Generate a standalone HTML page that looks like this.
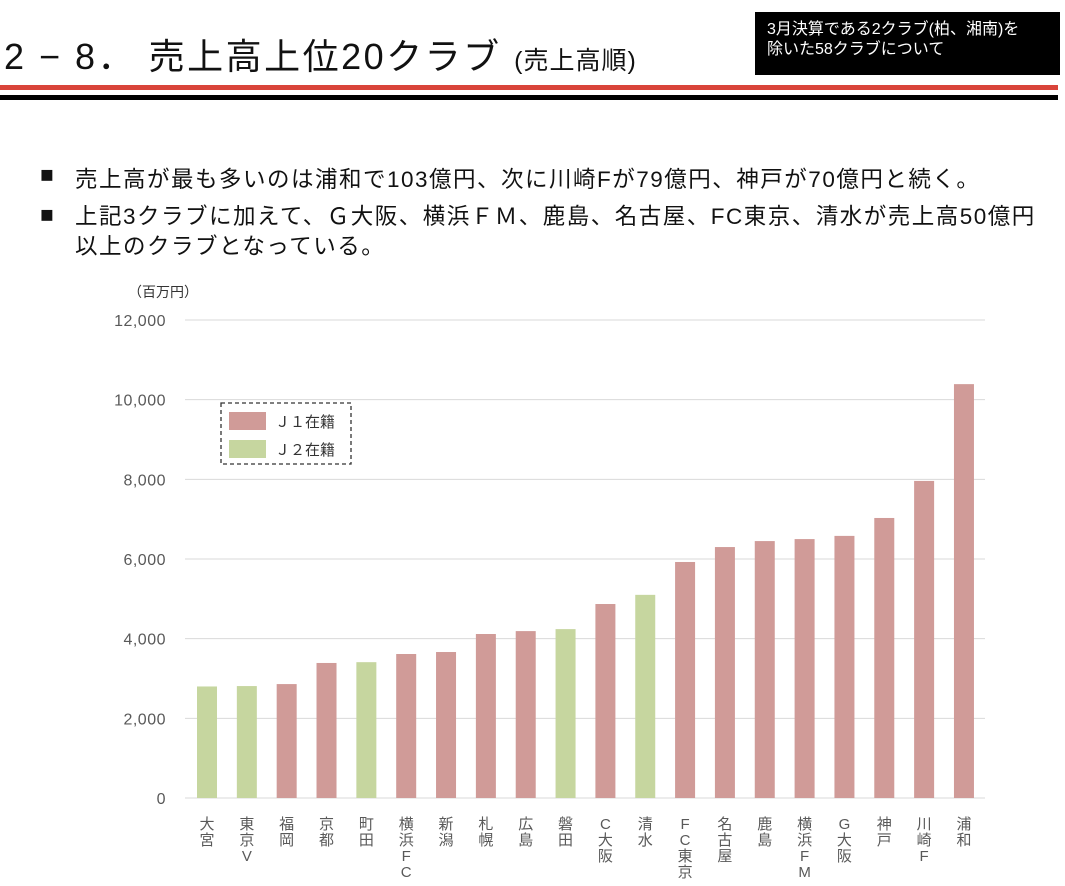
<!DOCTYPE html>
<html><head><meta charset="utf-8">
<style>
body{margin:0;width:1065px;height:886px;background:#fff;overflow:hidden;font-family:"Liberation Sans","Noto Sans CJK JP",sans-serif;position:relative}
.abs{position:absolute}
.b{font-size:22.5px;color:#111;white-space:nowrap;letter-spacing:1.5px}
</style></head><body>
<div class="abs" style="left:4px;top:28px;font-size:36px;color:#111;white-space:nowrap;letter-spacing:2.5px">2 − 8． 売上高上位20クラブ <span style="font-size:25px;letter-spacing:1px">(売上高順)</span></div>
<div class="abs" style="left:755px;top:12px;width:305px;height:63px;background:#000;color:#fff;font-size:16px;line-height:20px;padding:8px 0 0 12px;box-sizing:border-box">3月決算である2クラブ(柏、湘南)を<br>除いた58クラブについて</div>
<div class="abs" style="left:0;top:85px;width:1058px;height:5px;background:#d9443a"></div>
<div class="abs" style="left:0;top:95px;width:1058px;height:5px;background:#000"></div>
<div class="abs b" style="left:40px;top:162px">■</div>
<div class="abs b" style="left:75px;top:162px">売上高が最も多いのは浦和で103億円、次に川崎Fが79億円、神戸が70億円と続く。</div>
<div class="abs b" style="left:40px;top:202px">■</div>
<div class="abs b" style="left:75px;top:202px;line-height:30px">上記3クラブに加えて、Ｇ大阪、横浜ＦＭ、鹿島、名古屋、FC東京、清水が売上高50億円<br>以上のクラブとなっている。</div>
<svg class="abs" style="left:0;top:0" width="1065" height="886" id="chart"></svg>
<script>
const categories=["大宮","東京V","福岡","京都","町田","横浜FC","新潟","札幌","広島","磐田","C大阪","清水","FC東京","名古屋","鹿島","横浜FM","G大阪","神戸","川崎F","浦和"];
const values=[2800,2810,2860,3390,3410,3615,3665,4117,4190,4240,4870,5100,5925,6300,6450,6500,6580,7030,7960,10390];
const division=[2,2,1,1,2,1,1,1,1,2,1,2,1,1,1,1,1,1,1,1];
const yTicks=[0,2000,4000,6000,8000,10000,12000];
const NS="http://www.w3.org/2000/svg";
const svg=document.getElementById('chart');
const y=v=>798-v*(478/12000);
const x=i=>207+i*39.84;
function mk(t,a){const e=document.createElementNS(NS,t);for(const k in a)e.setAttribute(k,a[k]);svg.appendChild(e);return e;}
yTicks.forEach(v=>{
 const l=mk('line',{x1:185,x2:985,y1:y(v),y2:y(v),stroke:'#d9d9d9','stroke-width':1});
 
 
 const t=mk('text',{x:166,y:y(v)+6,'text-anchor':'end','font-size':16,fill:'#595959','letter-spacing':0.5});
 t.textContent=v.toLocaleString('en-US');
 
 
});
const u=mk('text',{x:128,y:297,'font-size':14,fill:'#333'});u.textContent='（百万円）';


values.forEach((v,i)=>{
 const r=mk('rect',{x:x(i)-10,y:y(v),width:20,height:798-y(v),fill:division[i]==1?'#d09b98':'#c6d69f'});
 
 
 [...categories[i]].forEach((ch,j)=>{
  const t=mk('text',{x:x(i),y:829+j*16,'text-anchor':'middle','font-size':15,fill:'#595959'});
  t.textContent=ch;
  
  
 });
});
const lb=mk('rect',{x:221,y:403,width:130,height:61,fill:'none',stroke:'#333','stroke-dasharray':'4,3','stroke-width':1.3});


[['Ｊ１在籍','#d09b98',412],['Ｊ２在籍','#c6d69f',440]].forEach(([n,c,yy])=>{
 const s=mk('rect',{x:229,y:yy,width:37,height:18,fill:c});
 
 
 const t=mk('text',{x:275,y:yy+15,'font-size':15,fill:'#333'});t.textContent=n;
 
 
});
</script>
</body></html>
